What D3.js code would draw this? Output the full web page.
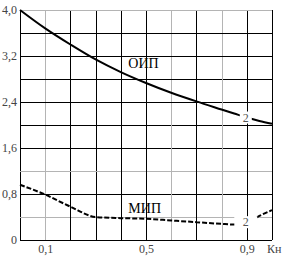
<!DOCTYPE html>
<html lang="ru">
<head>
    <meta charset="UTF-8">
    <title>ОИП / МИП</title>
    <script src="https://d3js.org/d3.v7.min.js"></script>
    <style>
        body { margin: 0; background: #fff; }
        svg text { font-family: "Liberation Serif", "Times New Roman", serif; }
    </style>
</head>
<body>
    <div id="chart"></div>
    <script>
        // Kн values and the two curves
        const kn = [0, 0.1, 0.2, 0.3, 0.4, 0.5, 0.6, 0.7, 0.8, 0.85, 0.9, 0.95, 1.0];
        const oip = [4.0, 3.68, 3.40, 3.14, 2.92, 2.73, 2.56, 2.41, 2.27, 2.20, 2.13, 2.07, 2.02];
        const mip = [0.96, 0.79, 0.58, 0.40, 0.38, 0.37, 0.34, 0.31, 0.28, 0.27, 0.31, 0.42, 0.52];

        const xTicks = [0.1, 0.5, 0.9];
        const yTicks = [0, 0.8, 1.6, 2.4, 3.2, 4.0];
        const seriesNames = ["ОИП", "МИП"];
        const curveLabel = "2";
        const xTitle = "Кн";

        const svg = d3.select("#chart").append("svg")
            .attr("width", 283)
            .attr("height", 257);

        const x = d3.scaleLinear().domain([0, 1]).range([20, 272]);
        const y = d3.scaleLinear().domain([0, 4]).range([240, 10]);

        const fmt = d => d === 0 ? "0" : d3.format(".1f")(d).replace(".", ",");

        // grid
        const grid = svg.append("g");
        const vGray = [1, 6, 8], hGray = [1, 3, 10];
        d3.range(0, 11).forEach(i => {
            const xv = Math.round(x(i / 10)) + 0.5;
            grid.append("line")
                .attr("x1", xv).attr("x2", xv)
                .attr("y1", y(0)).attr("y2", y(4))
                .attr("stroke", vGray.includes(i) ? "#b4b4b4" : "#000");
            const yv = Math.round(y(i * 0.4)) + 0.5;
            grid.append("line")
                .attr("x1", x(0)).attr("x2", x(1))
                .attr("y1", yv).attr("y2", yv)
                .attr("stroke", hGray.includes(i) ? "#b4b4b4" : "#000");
        });

        const styleTicks = g => {
            g.select(".domain").remove();
            g.attr("font-family", null);
            g.selectAll("text")
                .style("font-family", "'Liberation Serif', serif")
                .style("font-size", "12px")
                .attr("fill", "#444");
        };

        svg.append("g")
            .attr("transform", `translate(${x(0)},0)`)
            .call(d3.axisLeft(y).tickValues(yTicks).tickFormat(fmt).tickSize(0).tickPadding(3))
            .call(styleTicks);

        svg.append("g")
            .attr("transform", `translate(0,${y(0)})`)
            .call(d3.axisBottom(x).tickValues(xTicks).tickFormat(fmt).tickSize(0).tickPadding(4))
            .call(styleTicks);

        svg.append("text")
            .attr("x", 267).attr("y", 253)
            .style("font-size", "12px")
            .attr("fill", "#444")
            .text(xTitle);

        // curves
        const line = d3.line()
            .x((d, i) => x(kn[i]))
            .y(d => y(d))
            .curve(d3.curveCatmullRom);

        svg.append("path")
            .datum(oip)
            .attr("fill", "none")
            .attr("stroke", "#000")
            .attr("stroke-width", 2)
            .attr("d", line);

        svg.append("path")
            .datum(mip)
            .attr("fill", "none")
            .attr("stroke", "#000")
            .attr("stroke-width", 2)
            .attr("stroke-dasharray", "5,2")
            .attr("d", line.curve(d3.curveMonotoneX));

        // "2" markers with white gaps in the curves
        const marks = [
            {v: oip[10], w: 12},
            {v: mip[10], w: 23}
        ];
        marks.forEach(m => {
            const cx = x(0.9), cy = y(m.v);
            svg.append("rect")
                .attr("x", cx - m.w / 2 - 1).attr("y", cy - 6)
                .attr("width", m.w).attr("height", 12)
                .attr("fill", "#fff");
            svg.append("text")
                .attr("x", cx - 1).attr("y", cy + 4)
                .attr("text-anchor", "middle")
                .style("font-size", "12px")
                .attr("fill", "#555")
                .text(curveLabel);
        });

        // series names
        svg.append("text")
            .attr("x", x(0.43)).attr("y", y(3.0))
            .style("font-size", "14px")
            .text(seriesNames[0]);
        svg.append("text")
            .attr("x", x(0.43)).attr("y", y(0.47))
            .style("font-size", "14px")
            .text(seriesNames[1]);
    </script>
</body>
</html>
